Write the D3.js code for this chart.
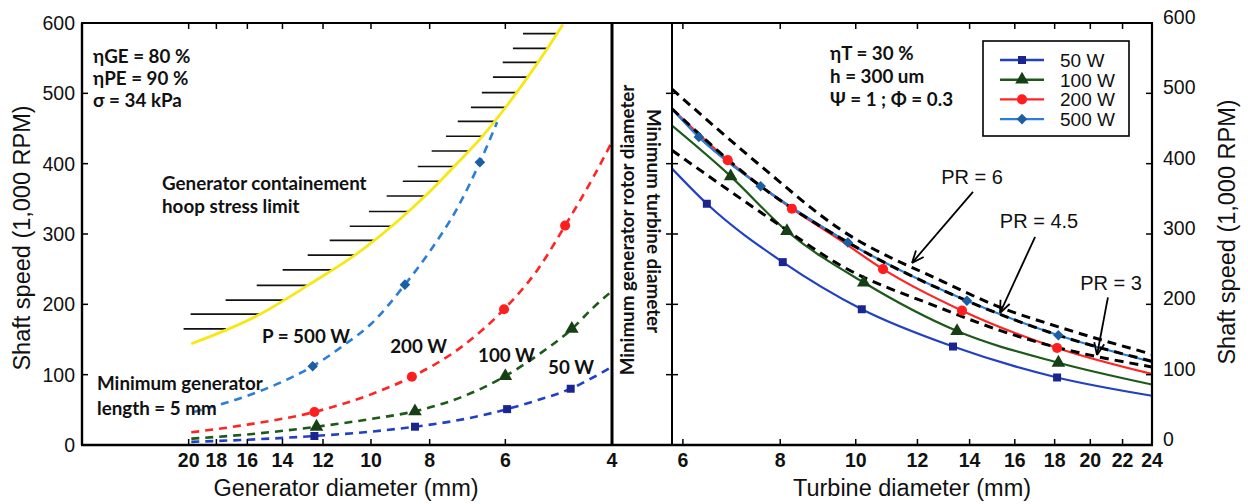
<!DOCTYPE html>
<html><head><meta charset="utf-8">
<script src="https://cdn.jsdelivr.net/npm/d3@7"></script>
<style>
html,body{margin:0;padding:0;background:#fff;}
svg{display:block;}
.semi{font-family:Lato,"Open Sans",sans-serif;font-weight:700;}
.helv{font-family:"Liberation Sans",Arial,sans-serif;}
</style></head>
<body>
<svg id="chart" width="1248" height="504"></svg>
<script>
// ---------- axes ----------
const speedTicks = [0, 100, 200, 300, 400, 500, 600];
const genTicks = [20, 18, 16, 14, 12, 10, 8, 6, 4];
const turbTicks = [6, 8, 10, 12, 14, 16, 18, 20, 22, 24];

// ---------- generator side: speed (1,000 RPM) vs generator diameter (mm) ----------
const gen50D  = [19.8, 16, 12.4, 10, 8.46, 7, 5.96, 5.3, 4.68, 4.3, 4];
const gen50V  = [4.5, 7.5, 12.8, 19, 26, 37, 51, 64, 80, 96, 111];
const gen50Marks = [2, 4, 6, 8];

const gen100D = [19.8, 16, 12.3, 10, 8.46, 7, 6.0, 5.3, 4.66, 4.3, 4];
const gen100V = [9, 15, 26, 37, 48, 70, 98, 128, 165, 195, 219];
const gen100Marks = [2, 4, 6, 8];

const gen200D = [19.8, 16, 12.4, 10, 8.56, 7, 6.03, 5.3, 4.78, 4.3, 4];
const gen200V = [18, 29, 47, 72, 97, 143, 193, 250, 312, 380, 431];
const gen200Marks = [2, 4, 6, 8];

const gen500D = [19.6, 16, 14, 12.48, 11, 10, 8.79, 8, 7.2, 6.61, 6.19];
const gen500V = [47, 70, 90, 112, 144, 172, 228, 275, 337, 402, 459];
const gen500Marks = [3, 6, 9];

// containment hoop-stress limit
const hoopD = [19.8, 15.4, 12.6, 10.55, 8.96, 8.09, 7.27, 6.56, 5.97, 5.51, 5.12, 4.82];
const hoopV = [144, 184, 229, 272, 321, 356, 397, 438, 482, 523, 563, 598];
// hatching: level and left end of each stroke
const hatchV = [585, 564, 544, 523, 501, 480, 460, 439, 418, 396, 375, 354, 332, 311, 291, 270, 249, 227, 206, 186, 165];
const hatchD = [5.61, 5.83, 6.06, 6.29, 6.56, 6.84, 7.19, 7.52, 7.94, 8.37, 8.86, 9.42, 10.08, 10.84, 11.70, 12.72, 13.99, 15.44, 17.38, 19.85, 20.39];

// ---------- turbine side: speed vs turbine diameter (mm) ----------
const tur50D  = [5.81, 6.44, 8.06, 10.18, 13.33, 18.13, 24];
const tur50V  = [393, 343, 260, 193, 140, 96, 70];
const tur100D = [5.81, 6.91, 8.16, 10.24, 13.49, 18.2, 24];
const tur100V = [454, 382, 304, 231, 162, 117, 86];
const tur200D = [5.81, 6.85, 8.28, 9.5, 10.84, 13.69, 18.13, 24];
const tur200V = [478, 405, 336, 293, 250, 191, 138, 101];
const tur200Marks = [1, 2, 4, 5, 6];
const tur500D = [5.81, 6.29, 7.55, 9.77, 13.89, 18.2, 24];
const tur500V = [478, 438, 368, 288, 205, 156, 118];
const turMarks = [1, 2, 3, 4, 5];

// pressure-ratio lines
const pr6D  = [5.81, 7.53, 9.54, 12.96, 15.3, 18.2, 24];
const pr6V  = [506, 398, 307, 232, 196, 168, 129];
const pr45D = [5.81, 7.55, 9.77, 13.89, 18.2, 24];
const pr45V = [478, 368, 288, 205, 156, 119];
const pr3D  = [5.81, 7.95, 9.54, 12.83, 15.3, 18.1, 24];
const pr3V  = [419, 314, 256, 195, 163, 139, 111];

const legendLabels = ["50 W", "100 W", "200 W", "500 W"];

// ---------- scales ----------
const svg = d3.select("#chart");
const y  = d3.scaleLinear().domain([0, 600]).range([445, 23]);
const xG = d3.scaleLog().domain([30, 4]).range([82, 612]);
const xT = d3.scaleLog().domain([5.81, 24]).range([672, 1152]);

const zip = (a, b) => a.map((v, i) => [v, b[i]]);

const styles = {
  w50:  {line: "#2140c4", mark: "#1a2590", shape: "square"},
  w100: {line: "#1d5a1a", mark: "#173f15", shape: "triangle"},
  w200: {line: "#ff2424", mark: "#ff1e1e", shape: "circle"},
  w500: {line: "#2b7ed6", mark: "#1d5da2", shape: "diamond"}
};

function symbolPath(shape) {
  if (shape === "square") return d3.symbol(d3.symbolSquare, 64)();
  if (shape === "triangle") return d3.symbol(d3.symbolTriangle, 80)();
  if (shape === "circle") return d3.symbol(d3.symbolCircle, 80)();
  return d3.symbol(d3.symbolSquare, 56)();
}
function drawMarks(g, pts, xs, st) {
  g.selectAll(null).data(pts).enter().append("path")
    .attr("d", symbolPath(st.shape))
    .attr("transform", p => `translate(${xs(p[0])},${y(p[1])})` + (st.shape === "diamond" ? " rotate(45)" : ""))
    .attr("fill", st.mark);
}

// clip regions
const defs = svg.append("defs");
defs.append("clipPath").attr("id", "clipG").append("rect").attr("x", 82).attr("y", 23).attr("width", 530).attr("height", 422);
defs.append("clipPath").attr("id", "clipT").append("rect").attr("x", 672).attr("y", 23).attr("width", 480).attr("height", 422);

const curve = d3.curveMonotoneX;
const lineG = d3.line().x(p => xG(p[0])).y(p => y(p[1])).curve(curve);
const lineT = d3.line().x(p => xT(p[0])).y(p => y(p[1])).curve(curve);

// ---------- generator panel ----------
const gG = svg.append("g").attr("clip-path", "url(#clipG)");

// hatching against the hoop-stress limit
function hoopDAt(v) {
  for (let i = 0; i < hoopV.length - 1; i++) {
    if (v >= hoopV[i] && v <= hoopV[i + 1]) {
      const t = (v - hoopV[i]) / (hoopV[i + 1] - hoopV[i]);
      return Math.exp(Math.log(hoopD[i]) + t * (Math.log(hoopD[i + 1]) - Math.log(hoopD[i])));
    }
  }
  return hoopD[hoopD.length - 1];
}
gG.selectAll(null).data(zip(hatchD, hatchV)).enter().append("line")
  .attr("x1", p => xG(p[0])).attr("x2", p => xG(hoopDAt(p[1])))
  .attr("y1", p => y(p[1])).attr("y2", p => y(p[1]))
  .attr("stroke", "#111").attr("stroke-width", 1.7);

gG.append("path").attr("d", lineG(zip(hoopD, hoopV)))
  .attr("fill", "none").attr("stroke", "#f7e813").attr("stroke-width", 2.8);

const genSeries = [
  {D: gen50D, V: gen50V, M: gen50Marks, st: styles.w50},
  {D: gen100D, V: gen100V, M: gen100Marks, st: styles.w100},
  {D: gen200D, V: gen200V, M: gen200Marks, st: styles.w200},
  {D: gen500D, V: gen500V, M: gen500Marks, st: styles.w500}
];
genSeries.forEach(s => {
  const pts = zip(s.D, s.V);
  gG.append("path").attr("d", lineG(pts)).attr("fill", "none")
    .attr("stroke", s.st.line).attr("stroke-width", 2.6).attr("stroke-dasharray", "8,6");
  drawMarks(gG, s.M.map(i => pts[i]), xG, s.st);
});

// ---------- turbine panel ----------
const gT = svg.append("g").attr("clip-path", "url(#clipT)");
const turSeries = [
  {D: tur50D, V: tur50V, M: turMarks, st: styles.w50},
  {D: tur100D, V: tur100V, M: turMarks, st: styles.w100},
  {D: tur500D, V: tur500V, M: turMarks, st: styles.w500},
  {D: tur200D, V: tur200V, M: tur200Marks, st: styles.w200}
];
turSeries.forEach(s => {
  const pts = zip(s.D, s.V);
  gT.append("path").attr("d", lineT(pts)).attr("fill", "none")
    .attr("stroke", s.st.line).attr("stroke-width", 2.2);
});
// blue 500 W line stays on top of the red one where they coincide
gT.append("path").attr("d", lineT(zip(tur500D, tur500V).filter(p => p[0] <= 9.8))).attr("fill", "none")
  .attr("stroke", styles.w500.line).attr("stroke-width", 2.2);

[[pr6D, pr6V], [pr45D, pr45V], [pr3D, pr3V]].forEach(([D, V]) => {
  gT.append("path").attr("d", lineT(zip(D, V))).attr("fill", "none")
    .attr("stroke", "#000").attr("stroke-width", 3).attr("stroke-dasharray", "9,6");
});
turSeries.forEach(s => {
  const pts = zip(s.D, s.V);
  drawMarks(gT, s.M.map(i => pts[i]), xT, s.st);
});

// ---------- frame and ticks ----------
const frame = svg.append("g").attr("stroke", "#000").attr("fill", "none");
frame.append("line").attr("x1", 81).attr("x2", 1153).attr("y1", y(600)).attr("y2", y(600)).attr("stroke-width", 2);
frame.append("line").attr("x1", 81).attr("x2", 1153).attr("y1", y(0)).attr("y2", y(0)).attr("stroke-width", 2.4);
frame.append("line").attr("x1", 82).attr("x2", 82).attr("y1", y(600)).attr("y2", y(0)).attr("stroke-width", 2.4);
frame.append("line").attr("x1", 612).attr("x2", 612).attr("y1", y(600)).attr("y2", y(0)).attr("stroke-width", 3);
frame.append("line").attr("x1", 672).attr("x2", 672).attr("y1", y(600)).attr("y2", y(0)).attr("stroke-width", 2);
frame.append("line").attr("x1", 1152).attr("x2", 1152).attr("y1", y(600)).attr("y2", y(0)).attr("stroke-width", 2.2);

const inner = speedTicks.slice(1, -1);
inner.forEach(v => {
  frame.append("line").attr("x1", 82).attr("x2", 88).attr("y1", y(v)).attr("y2", y(v)).attr("stroke-width", 1.5);
  frame.append("line").attr("x1", 666).attr("x2", 678).attr("y1", y(v)).attr("y2", y(v)).attr("stroke-width", 1.5);
  frame.append("line").attr("x1", 1146).attr("x2", 1152).attr("y1", y(v)).attr("y2", y(v)).attr("stroke-width", 1.5);
});
genTicks.slice(0, -1).forEach(d => {
  frame.append("line").attr("x1", xG(d)).attr("x2", xG(d)).attr("y1", y(0)).attr("y2", y(0) - 6).attr("stroke-width", 1.5);
  frame.append("line").attr("x1", xG(d)).attr("x2", xG(d)).attr("y1", y(600)).attr("y2", y(600) + 6).attr("stroke-width", 1.5);
});
turbTicks.slice(0, -1).forEach(d => {
  frame.append("line").attr("x1", xT(d)).attr("x2", xT(d)).attr("y1", y(0)).attr("y2", y(0) - 6).attr("stroke-width", 1.5);
  frame.append("line").attr("x1", xT(d)).attr("x2", xT(d)).attr("y1", y(600)).attr("y2", y(600) + 6).attr("stroke-width", 1.5);
});

// tick labels
const tl = svg.append("g").attr("class", "helv").attr("fill", "#111");
tl.selectAll(null).data(speedTicks).enter().append("text")
  .attr("x", 75).attr("y", v => y(v)).attr("dy", "0.36em").attr("text-anchor", "end")
  .attr("font-size", 19.5).text(v => v);
tl.selectAll(null).data(speedTicks).enter().append("text")
  .attr("x", 1163).attr("y", v => y(v) - 6).attr("dy", "0.36em").attr("text-anchor", "start")
  .attr("font-size", 19.5).text(v => v);
tl.selectAll(null).data(genTicks).enter().append("text")
  .attr("x", d => xG(d)).attr("y", 467).attr("text-anchor", "middle")
  .attr("font-size", 19.5).attr("font-weight", "bold").text(d => d);
tl.selectAll(null).data(turbTicks).enter().append("text")
  .attr("x", d => xT(d)).attr("y", 467).attr("text-anchor", "middle")
  .attr("font-size", 19.5).attr("font-weight", "bold").text(d => d);

// axis titles
const at = svg.append("g").attr("class", "helv").attr("fill", "#111").attr("font-size", 23.5);
at.append("text").attr("transform", "translate(30,238) rotate(-90)").attr("text-anchor", "middle").text("Shaft speed (1,000 RPM)");
at.append("text").attr("transform", "translate(1235,232) rotate(-90)").attr("text-anchor", "middle").text("Shaft speed (1,000 RPM)");
at.append("text").attr("x", 346).attr("y", 496).attr("text-anchor", "middle").text("Generator diameter (mm)");
at.append("text").attr("x", 912).attr("y", 496).attr("text-anchor", "middle").text("Turbine diameter (mm)");

// ---------- annotations ----------
const an = svg.append("g").attr("class", "semi").attr("fill", "#111").attr("font-size", 18.8);
[["ηGE = 80 %", 63], ["ηPE = 90 %", 85], ["σ = 34 kPa", 107]].forEach(([t, yy]) =>
  an.append("text").attr("x", 93).attr("y", yy).text(t));
[["ηT = 30 %", 60], ["h = 300 um", 83], ["Ψ = 1 ; Φ = 0.3", 106]].forEach(([t, yy]) =>
  an.append("text").attr("x", 830).attr("y", yy).text(t));
an.append("text").attr("x", 162).attr("y", 190).text("Generator containement");
an.append("text").attr("x", 162).attr("y", 213).text("hoop stress limit");
an.append("text").attr("x", 262).attr("y", 343).text("P = 500 W");
an.append("text").attr("x", 447).attr("y", 353).attr("text-anchor", "end").text("200 W");
an.append("text").attr("x", 478).attr("y", 362).text("100 W");
an.append("text").attr("x", 548).attr("y", 374).text("50 W");
an.append("text").attr("x", 97).attr("y", 390).text("Minimum generator");
an.append("text").attr("x", 97).attr("y", 415).text("length = 5 mm");
an.append("text").attr("transform", "translate(634,230) rotate(-90)").attr("text-anchor", "middle").text("Minimum generator rotor diameter");
an.append("text").attr("transform", "translate(647,221) rotate(90)").attr("text-anchor", "middle").text("Minimum turbine diameter");

// pressure-ratio callouts (anchored in data units)
const prNotes = [
  {label: "PR = 6",   at: [14.1, 371],  tail: [14.14, 360], head: [11.81, 259]},
  {label: "PR = 4.5", at: [17.19, 308.5], tail: [16.99, 296], head: [15.32, 188]},
  {label: "PR = 3",   at: [21.26, 220], tail: [21.07, 210], head: [20.4, 128]}
];
const pn = svg.append("g");
prNotes.forEach(n => {
  const x1 = xT(n.tail[0]), y1 = y(n.tail[1]), x2 = xT(n.head[0]), y2 = y(n.head[1]);
  pn.append("text").attr("class", "helv").attr("font-size", 20).attr("fill", "#111")
    .attr("x", xT(n.at[0])).attr("y", y(n.at[1])).attr("text-anchor", "middle").text(n.label);
  pn.append("line").attr("x1", x1).attr("y1", y1).attr("x2", x2).attr("y2", y2)
    .attr("stroke", "#000").attr("stroke-width", 1.8);
  const ang = Math.atan2(y2 - y1, x2 - x1), L = 13, spread = 0.4;
  [ang + Math.PI - spread, ang + Math.PI + spread].forEach(a => {
    pn.append("line").attr("x1", x2).attr("y1", y2)
      .attr("x2", x2 + L * Math.cos(a)).attr("y2", y2 + L * Math.sin(a))
      .attr("stroke", "#000").attr("stroke-width", 1.8);
  });
});

// ---------- legend ----------
const lg = svg.append("g");
lg.append("rect").attr("x", 983).attr("y", 41).attr("width", 146).attr("height", 95)
  .attr("fill", "#fff").attr("stroke", "#000").attr("stroke-width", 1.6);
const legendStyles = [styles.w50, styles.w100, styles.w200, styles.w500];
legendLabels.forEach((lab, i) => {
  const yy = 60 + i * 19.7;
  const st = legendStyles[i];
  lg.append("line").attr("x1", 1000).attr("x2", 1044).attr("y1", yy).attr("y2", yy)
    .attr("stroke", st.line).attr("stroke-width", 2.4);
  lg.append("path").attr("d", symbolPath(st.shape))
    .attr("transform", `translate(1022,${yy})` + (st.shape === "diamond" ? " rotate(45)" : ""))
    .attr("fill", st.mark);
  lg.append("text").attr("class", "helv").attr("font-size", 19).attr("fill", "#111")
    .attr("x", 1060).attr("y", yy).attr("dy", "0.36em").text(lab);
});
</script>
</body></html>
